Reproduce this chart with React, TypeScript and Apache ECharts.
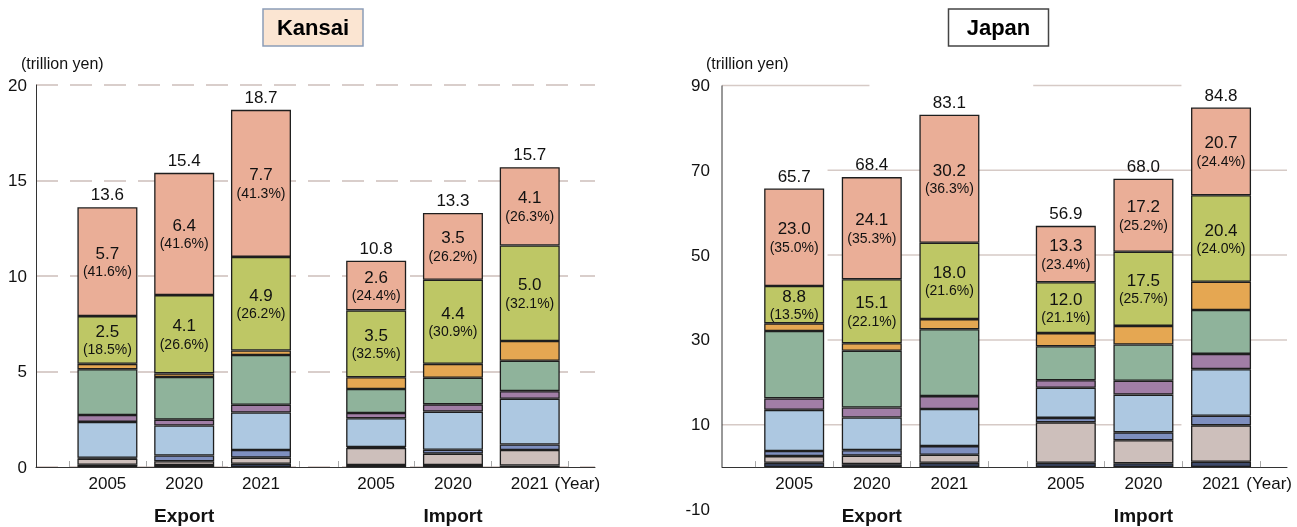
import { useEffect, useRef } from 'react';
import * as echarts from 'echarts';

// ---- shared layout of the x axis (category units) ----
const YEARS = ['2005', '2020', '2021'];
const GROUPS = ['Export', 'Import'];
const BAR_POS = [0, 1, 2, 3.5, 4.5, 5.5]; // Export 2005/2020/2021, Import 2005/2020/2021
const TICK_POS = [-0.5, 0.5, 1.5, 2.5, 3, 4, 5, 6];
const YEAR_UNIT_POS = 6.12;
const X_MIN = -0.93;
const X_MAX = 6.35;

// stacked layers, bottom first
const LAYER_COLORS = ['#3d4a6b', '#cdbfbb', '#7e8fbf', '#adc8e1', '#a17ea6', '#8fb39b', '#e5a752', '#bec765', '#eaae97'];

// ---- Kansai (trillion yen) ----
const kansaiNavy = [0.12, 0.1, 0.17, 0.1, 0.1, 0.08];
const kansaiTan = [0.32, 0.2, 0.32, 0.9, 0.6, 0.81];
const kansaiSlate = [0.04, 0.3, 0.4, 0.05, 0.2, 0.29];
const kansaiLightBlue = [1.88, 1.57, 1.96, 1.5, 2.0, 2.39];
const kansaiPurple = [0.36, 0.31, 0.41, 0.28, 0.38, 0.4];
const kansaiGreen = [2.4, 2.23, 2.6, 1.25, 1.39, 1.59];
const kansaiOrange = [0.28, 0.19, 0.24, 0.62, 0.73, 1.04];
const kansaiOlive = [2.5, 4.1, 4.9, 3.5, 4.4, 5.0];
const kansaiSalmon = [5.7, 6.4, 7.7, 2.6, 3.5, 4.1];
const kansaiOliveShare = [18.5, 26.6, 26.2, 32.5, 30.9, 32.1];
const kansaiSalmonShare = [41.6, 41.6, 41.3, 24.4, 26.2, 26.3];

// ---- Japan (trillion yen) ----
const japanNavy = [1.0, 0.7, 1.0, 1.0, 0.9, 1.25];
const japanTan = [1.6, 2.0, 1.9, 9.55, 5.45, 8.6];
const japanSlate = [1.2, 1.3, 2.05, 1.05, 1.85, 2.25];
const japanLightBlue = [9.7, 7.7, 8.75, 7.1, 8.9, 11.0];
const japanPurple = [2.7, 2.35, 3.05, 1.8, 3.25, 3.6];
const japanGreen = [15.9, 13.4, 15.75, 8.0, 8.55, 10.35];
const japanOrange = [1.8, 1.75, 2.4, 3.1, 4.4, 6.65];
const japanOlive = [8.8, 15.1, 18.0, 12.0, 17.5, 20.4];
const japanSalmon = [23.0, 24.1, 30.2, 13.3, 17.2, 20.7];
const japanOliveShare = [13.5, 22.1, 21.6, 21.1, 25.7, 24.0];
const japanSalmonShare = [35.0, 35.3, 36.3, 23.4, 25.2, 24.4];

// Japan gridline segments: [value, from x, to x]
const japanGridSegments: [number, number, number][] = [
  [90, X_MIN, 0.97],
  [90, 3.08, 4.99],
  [70, 0.43, X_MAX],
  [50, 0.43, X_MAX],
  [30, 0.43, X_MAX],
  [10, X_MIN, 4.99],
];

const FONT = 'Liberation Sans, Arial, Helvetica, sans-serif';

const near = (a: number, b: number) => Math.abs(a - b) < 1e-6;

// labelMargin is measured from the grid's bottom edge
function xAxisFor(gridIndex: number, labelMargin: number) {
  return {
    type: 'value',
    gridIndex,
    min: X_MIN,
    max: X_MAX,
    axisLine: { show: true, onZero: true, lineStyle: { color: '#333', width: 1 } },
    axisTick: { show: true, inside: true, length: 6, customValues: TICK_POS, lineStyle: { color: '#a9a9a9', width: 1 } },
    axisLabel: {
      customValues: [...BAR_POS, YEAR_UNIT_POS],
      margin: labelMargin,
      formatter: (v: number) => {
        if (near(v, YEAR_UNIT_POS)) return '{y|(Year)}';
        const j = BAR_POS.findIndex((p) => near(p, v));
        if (j < 0) return '';
        const year = YEARS[j % 3];
        if (j % 3 === 1) return `{y|${year}}\n{g|${GROUPS[Math.floor(j / 3)]}}`;
        return `{y|${year}}`;
      },
      rich: {
        y: { fontSize: 17, lineHeight: 20, color: '#111', fontFamily: FONT },
        g: { fontSize: 19, lineHeight: 44, fontWeight: 'bold', color: '#111', fontFamily: FONT },
      },
    },
    splitLine: { show: false },
  };
}

// each datum is [value, position] so the stacked dimension is the value one
function stackSeries(
  layers: number[][],
  oliveShare: number[],
  salmonShare: number[],
  axisIndex: number,
  stack: string
) {
  const series: any[] = layers.map((values, i) => {
    const share = i === 7 ? oliveShare : i === 8 ? salmonShare : null;
    return {
      type: 'bar',
      stack,
      xAxisIndex: axisIndex,
      yAxisIndex: axisIndex,
      barWidth: 60,
      z: 2,
      encode: { x: 1, y: 0 },
      data: BAR_POS.map((x, j) => [values[j], x]),
      itemStyle: { color: LAYER_COLORS[i], borderColor: '#1e1e1e', borderWidth: 1.3 },
      label: share
        ? {
            show: true,
            position: 'inside',
            formatter: (p: any) => `{v|${p.value[0].toFixed(1)}}\n{p|(${share[p.dataIndex].toFixed(1)}%)}`,
            rich: {
              v: { fontSize: 17, lineHeight: 19, color: '#111', fontFamily: FONT },
              p: { fontSize: 14, lineHeight: 17, color: '#111', fontFamily: FONT },
            },
          }
        : { show: false },
      silent: true,
    };
  });
  const totals = BAR_POS.map((_, j) => layers.reduce((s, l) => s + l[j], 0));
  // zero-height cap carrying the bar total
  series.push({
    type: 'bar',
    stack,
    xAxisIndex: axisIndex,
    yAxisIndex: axisIndex,
    barWidth: 60,
    encode: { x: 1, y: 0 },
    data: BAR_POS.map((x) => [0, x]),
    itemStyle: { color: 'rgba(0,0,0,0)', borderWidth: 0 },
    label: {
      show: true,
      position: 'top',
      distance: 4,
      formatter: (p: any) => totals[p.dataIndex].toFixed(1),
      fontSize: 17,
      color: '#111',
      fontFamily: FONT,
    },
    silent: true,
  });
  return series;
}

function titleBox(cx: number, text: string, fill: string, stroke: string) {
  return {
    type: 'group',
    children: [
      { type: 'rect', shape: { x: cx - 50, y: 9, width: 100, height: 37 }, style: { fill, stroke, lineWidth: 1.5 } },
      {
        type: 'text',
        x: cx,
        y: 27.5,
        style: { text, fill: '#000', font: `bold 22px ${FONT}`, align: 'center', verticalAlign: 'middle' },
      },
    ],
  };
}

export default function App() {
  const ref = useRef<HTMLDivElement>(null);

  useEffect(() => {
    if (!ref.current) return;
    const chart = echarts.init(ref.current, undefined, { renderer: 'svg' });

    const kansaiLayers = [kansaiNavy, kansaiTan, kansaiSlate, kansaiLightBlue, kansaiPurple, kansaiGreen, kansaiOrange, kansaiOlive, kansaiSalmon];
    const japanLayers = [japanNavy, japanTan, japanSlate, japanLightBlue, japanPurple, japanGreen, japanOrange, japanOlive, japanSalmon];

    const gridSeries = japanGridSegments.map(([v, a, b]) => ({
      type: 'line',
      xAxisIndex: 1,
      yAxisIndex: 1,
      data: [
        [a, v],
        [b, v],
      ],
      symbol: 'none',
      lineStyle: { color: '#d6cac6', width: 1.5 },
      z: 1,
      silent: true,
      clip: false,
    }));

    const japanAxisLine = {
      type: 'line',
      xAxisIndex: 1,
      yAxisIndex: 1,
      data: [
        [X_MIN, 0],
        [X_MIN, 90],
      ],
      symbol: 'none',
      lineStyle: { color: '#333', width: 1 },
      z: 5,
      silent: true,
      clip: false,
    };

    chart.setOption({
      animation: false,
      textStyle: { fontFamily: FONT },
      grid: [
        { left: 36, top: 85, width: 559, height: 382, outerBoundsMode: 'none', containLabel: false },
        { left: 722, top: 85.5, width: 565, height: 424, outerBoundsMode: 'none', containLabel: false },
      ],
      // the Japan axis sits on zero, 42px above its grid's bottom edge
      xAxis: [xAxisFor(0, 6), xAxisFor(1, -36)],
      yAxis: [
        {
          type: 'value',
          gridIndex: 0,
          min: 0,
          max: 20,
          interval: 5,
          axisLine: { show: true, onZero: false, lineStyle: { color: '#333', width: 1 } },
          axisTick: { show: false },
          axisLabel: { fontSize: 17, color: '#111', margin: 9, fontFamily: FONT },
          splitLine: { show: true, lineStyle: { color: '#cdbfba', width: 1.5, type: [22, 12] } },
        },
        {
          type: 'value',
          gridIndex: 1,
          min: -10,
          max: 90,
          interval: 20,
          axisLine: { show: false, onZero: false },
          axisTick: { show: false },
          axisLabel: { fontSize: 17, color: '#111', margin: 12, fontFamily: FONT },
          splitLine: { show: false },
        },
      ],
      graphic: [
        titleBox(313, 'Kansai', '#fbe5d2', '#8c9db8'),
        titleBox(998.5, 'Japan', '#ffffff', '#444444'),
        { type: 'text', x: 21, y: 63, style: { text: '(trillion yen)', fill: '#111', font: `16px ${FONT}`, verticalAlign: 'middle' } },
        { type: 'text', x: 706, y: 63, style: { text: '(trillion yen)', fill: '#111', font: `16px ${FONT}`, verticalAlign: 'middle' } },
      ],
      series: [
        ...gridSeries,
        japanAxisLine,
        ...stackSeries(kansaiLayers, kansaiOliveShare, kansaiSalmonShare, 0, 'kansai'),
        ...stackSeries(japanLayers, japanOliveShare, japanSalmonShare, 1, 'japan'),
      ],
    });

    return () => chart.dispose();
  }, []);

  return <div ref={ref} style={{ position: 'fixed', left: 0, top: 0, width: 1297, height: 527 }} />;
}
